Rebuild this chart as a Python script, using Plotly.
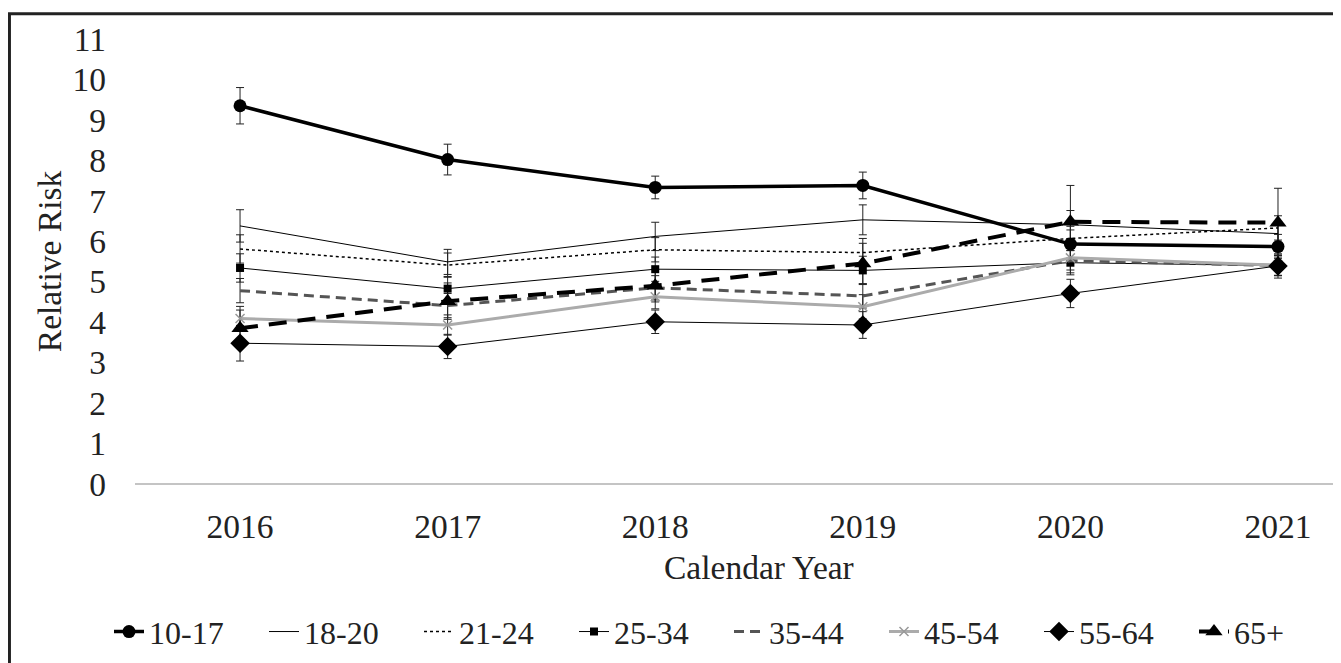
import plotly.graph_objects as go

years = [2016, 2017, 2018, 2019, 2020, 2021]
series_names = ["10-17", "18-20", "21-24", "25-34", "35-44", "45-54", "55-64", "65+"]

rr_10_17 = [9.35, 8.02, 7.33, 7.38, 5.93, 5.87]
rr_18_20 = [6.38, 5.49, 6.12, 6.53, 6.41, 6.19]
rr_21_24 = [5.81, 5.41, 5.79, 5.72, 6.07, 6.33]
rr_25_34 = [5.34, 4.83, 5.31, 5.28, 5.47, 5.40]
rr_35_44 = [4.78, 4.41, 4.85, 4.65, 5.52, 5.40]
rr_45_54 = [4.09, 3.93, 4.63, 4.38, 5.59, 5.41]
rr_55_64 = [3.48, 3.40, 4.01, 3.93, 4.71, 5.39]
rr_65p = [3.85, 4.52, 4.90, 5.45, 6.48, 6.46]

err_10_17 = [0.45, 0.38, 0.28, 0.33, 0.35, 0.30]
err_18_20 = [0.40, 0.31, 0.35, 0.37, 0.35, 0.30]
err_21_24 = [0.35, 0.30, 0.30, 0.35, 0.30, 0.30]
err_25_34 = [0.35, 0.30, 0.30, 0.35, 0.30, 0.25]
err_35_44 = [0.30, 0.30, 0.30, 0.30, 0.30, 0.25]
err_45_54 = [0.30, 0.25, 0.30, 0.30, 0.30, 0.25]
err_55_64 = [0.44, 0.30, 0.29, 0.33, 0.35, 0.30]
err_65p = [0.45, 0.45, 0.40, 0.50, 0.90, 0.85]

values = [rr_10_17, rr_18_20, rr_21_24, rr_25_34, rr_35_44, rr_45_54, rr_55_64, rr_65p]
errors = [err_10_17, err_18_20, err_21_24, err_25_34, err_35_44, err_45_54, err_55_64, err_65p]

styles = [
    dict(line=dict(color="black", width=3.5), marker=dict(symbol="circle", size=13, color="black"), mode="lines+markers"),
    dict(line=dict(color="black", width=1), marker=dict(size=1), mode="lines"),
    dict(line=dict(color="black", width=1.5, dash="dot"), marker=dict(size=1), mode="lines"),
    dict(line=dict(color="black", width=1), marker=dict(symbol="square", size=8, color="black"), mode="lines+markers"),
    dict(line=dict(color="#555555", width=3, dash="10px,6px"), marker=dict(size=1), mode="lines"),
    dict(line=dict(color="#ababab", width=3), marker=dict(symbol="x-thin", size=9, color="#999999", line=dict(color="#999999", width=1.5)), mode="lines+markers"),
    dict(line=dict(color="black", width=1), marker=dict(symbol="diamond", size=15, color="black"), mode="lines+markers"),
    dict(line=dict(color="black", width=4, dash="18px,11px"), marker=dict(symbol="triangle-up", size=15, color="black"), mode="lines+markers"),
]

fig = go.Figure()
# error bars (kept out of the legend)
for name, vals, errs in zip(series_names, values, errors):
    fig.add_trace(go.Scatter(
        x=years, y=vals, name=name + " CI", mode="markers", showlegend=False,
        marker=dict(size=1, opacity=0), hoverinfo="skip",
        error_y=dict(type="data", array=errs, visible=True, color="#222222", thickness=1, width=4),
    ))
for name, vals, st in zip(series_names, values, styles):
    fig.add_trace(go.Scatter(
        x=years, y=vals, name=name, mode=st["mode"],
        line=st["line"], marker=st["marker"],
    ))

FONT = "Liberation Serif, Times New Roman, serif"
FS = 33.5

fig.update_layout(
    width=1341, height=663,
    margin=dict(l=127, r=16, t=30.5, b=184.5),
    paper_bgcolor="white", plot_bgcolor="white",
    font=dict(family=FONT, size=FS, color="#222222"),
    showlegend=True,
    legend=dict(orientation="h", x=-0.0175, y=-0.332, xanchor="left", yanchor="middle",
                font=dict(family=FONT, size=32, color="#222222"),
                entrywidth=110, itemsizing="trace", tracegroupgap=0),
    xaxis=dict(range=[2015.494, 2021.265], tickvals=years, ticktext=[str(y) for y in years],
               showgrid=False, zeroline=False, showline=False, ticks="",
               ticklabelstandoff=19),
    yaxis=dict(range=[0, 11], tickvals=list(range(0, 12)), showgrid=False, zeroline=False,
               showline=False, ticks="", ticklabelstandoff=28,
               title=dict(text="Relative Risk", standoff=0, font=dict(family=FONT, size=FS))),
    annotations=[dict(text="Calendar Year", x=2018.5, xref="x", y=-0.1867, yref="paper",
                      xanchor="center", yanchor="middle", showarrow=False,
                      font=dict(family=FONT, size=FS, color="#222222"))],
    shapes=[
        dict(type="line", xref="paper", yref="paper", x0=0, x1=1, y0=0, y1=0,
             line=dict(color="#b0b0b0", width=1.5), layer="below"),
        dict(type="rect", xref="paper", yref="paper", x0=-0.1048, x1=1.03, y0=-0.6, y1=1.0569,
             line=dict(color="#222222", width=3), fillcolor="rgba(0,0,0,0)", layer="above"),
    ],
)

fig.write_html("out.html")
